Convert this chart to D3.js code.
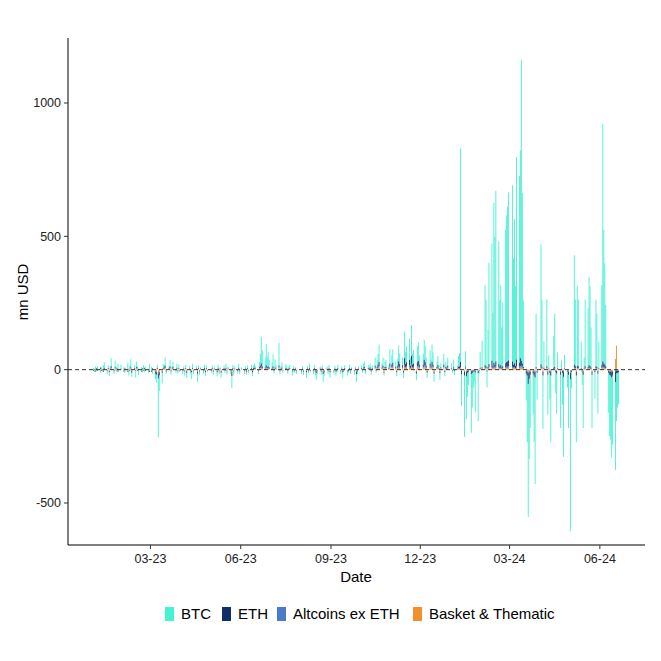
<!DOCTYPE html>
<html><head><meta charset="utf-8">
<script src="https://cdn.jsdelivr.net/npm/d3@7"></script>
<style>body{margin:0;background:#fff}text{font-family:Arial,"Liberation Sans",sans-serif}</style>
</head><body><div id="chart"></div>
<script>
const months = ["2023-01","2023-02","2023-03","2023-04","2023-05","2023-06","2023-07","2023-08","2023-09",
  "2023-10","2023-11","2023-12","2024-01","2024-02","2024-03","2024-04","2024-05","2024-06"];
// business-day values per month, mn USD
const btc = [
  [5,-8,10,-5,12,-10,8,-6,15,20,-12,10,-15,8,30,-10,25,12,-8,20,15],
  [10,-12,25,-20,15,30,-15,10,-25,20,12,-18,8,-10,15,-8,10,-12,20,-15],
  [10,-15,-20,-30,12,-220,-60,-40,15,10,30,-10,8,25,-12,10,20,-8,15,-10,12,-5,8],
  [-10,8,-15,12,-20,10,-8,-25,15,-10,8,-30,10,-12,5,-8,12,-15,10,-5],
  [-8,10,-12,8,-15,12,-10,5,-18,10,-8,15,-12,8,-10,-45,12,-15,10,-8,15,-10,8],
  [5,-10,8,-12,10,-8,12,-15,10,15,8,-10,20,45,100,60,35,80,40,55,30,25],
  [20,45,-10,30,15,85,-12,10,20,-8,15,10,-10,8,12,-15,10,-8,5,-10],
  [-10,8,-12,-20,10,-8,15,-5,-10,12,-15,-25,-10,8,-12,10,-30,-15,8,-10,12,-20,-8],
  [-12,10,-15,-8,12,-10,8,-20,-5,10,-15,-8,12,-10,5,-12,8,-30,-10,8,12],
  [10,-8,15,20,-10,12,8,15,-12,10,30,-8,25,40,65,15,30,-10,20,25,10,55],
  [35,50,20,-15,25,60,40,30,-20,100,45,60,80,30,115,40,50,-25,60,70,35,45],
  [40,75,60,30,-20,50,25,65,45,-30,20,35,10,-25,15,40,-15,20,10,30,5],
  [20,-10,30,-15,10,40,50,800,-120,-230,60,-160,-90,-50,-220,-130,-60,-40,-150,-180,-10,60],
  [100,300,250,-60,140,380,440,200,600,480,640,460,250,300,150,240,500,550,580,630,540],
  [660,400,540,300,760,700,780,1130,640,250,-100,-250,-500,-300,-200,-150,-250,-400,200,-100,-120],
  [450,250,-200,100,250,-150,50,-100,-250,120,200,-80,-150,60,-200,30,-120,-300,50,-60,-200,100],
  [-570,-60,410,250,-250,300,250,100,-50,-200,40,250,220,330,300,150,-200,-100,250,200,-150,100,50],
  [300,890,500,380,230,-150,-230,-240,-300,-260,-330,-180,-130,-120]
];
const eth = [
  [-3,2,-4,3,-2,5,-3,2,-5,4,-2,3,-4,2,6,-3,4,-2,3,-4,2],
  [-4,3,-5,2,-3,4,-6,3,-2,5,-3,2,-4,3,-2,4,-3,2,-5,3],
  [-5,3,-8,-10,4,-20,-12,-6,3,5,8,-4,3,6,-3,2,5,-2,4,-3,3,-2,2],
  [-3,2,-4,3,-6,2,-3,-5,4,-3,2,-8,3,-4,2,-3,4,-5,3,-2],
  [-2,3,-4,2,-5,3,-3,2,-6,3,-2,4,-3,2,-3,-15,3,-4,2,-3,4,-3,2],
  [2,-3,2,-4,3,-2,3,-5,3,4,2,-3,5,8,12,6,4,8,5,6,4,3],
  [3,6,-2,4,2,8,-3,2,4,-2,3,2,-3,2,3,-4,2,-2,2,-3],
  [-3,2,-4,-5,2,-3,4,-2,-3,3,-4,-6,-3,2,-4,3,-8,-5,2,-3,3,-5,-2],
  [-3,2,-4,-2,3,-3,2,-5,-2,3,-4,-2,3,-3,2,-3,2,-8,-3,2,3],
  [3,-2,4,5,-3,3,2,4,-3,3,8,-2,6,10,15,4,8,-3,5,6,3,12],
  [10,15,6,-5,8,18,12,10,-6,25,12,15,20,8,30,10,12,-8,15,18,10,12],
  [10,20,15,8,-6,12,6,15,10,-8,5,8,3,-6,4,10,-4,5,3,8,2],
  [3,-2,5,-3,2,6,8,20,-12,-15,5,-18,-8,-5,-12,-8,-4,-3,-6,-8,-2,4],
  [5,10,8,-4,6,12,25,8,15,10,20,12,6,10,4,8,15,18,20,22,15],
  [20,10,15,8,25,15,30,18,12,5,-10,-15,-40,-25,-12,-10,-15,-20,6,-8,-10],
  [12,6,-15,4,8,-12,2,-8,-15,4,6,-5,-10,3,-12,2,-8,-18,3,-4,-12,4],
  [-25,-5,12,8,-15,10,8,3,-4,-12,3,8,6,10,8,5,-12,-6,8,6,-10,3,2],
  [10,20,15,12,8,-8,-12,-15,-20,-15,-40,-10,-8,-6]
];
const alts = [
  [1,-1,2,-1,1,-2,1,-1,2,1,-1,1,-2,1,3,-1,2,1,-1,2,1],
  [1,-1,2,-2,1,2,-1,1,-2,2,1,-1,1,-1,1,-1,1,-1,2,-1],
  [1,-1,-2,-3,1,-5,-3,-2,1,1,2,-1,1,2,-1,1,2,-1,1,-1,1,-1,1],
  [-1,1,-1,1,-2,1,-1,-2,1,-1,1,-2,1,-1,1,-1,1,-1,1,-1],
  [-1,1,-1,1,-2,1,-1,1,-2,1,-1,1,-1,1,-1,-3,1,-1,1,-1,1,-1,1],
  [1,-1,1,-1,1,-1,1,-2,1,1,1,-1,2,3,5,3,2,4,2,3,2,2],
  [2,3,-1,2,1,4,-1,1,2,-1,1,1,-1,1,1,-1,1,-1,1,-1],
  [-1,1,-1,-2,1,-1,1,-1,-1,1,-1,-2,-1,1,-1,1,-3,-2,1,-1,1,-2,-1],
  [-1,1,-1,-1,1,-1,1,-2,-1,1,-1,-1,1,-1,1,-1,1,-3,-1,1,1],
  [1,-1,2,2,-1,1,1,2,-1,1,3,-1,2,4,6,2,3,-1,2,2,1,5],
  [4,5,2,-2,3,6,4,3,-2,8,4,6,7,3,10,4,5,-3,6,7,4,5],
  [4,8,6,3,-2,5,3,6,4,-3,2,4,1,-3,2,4,-2,2,1,3,1],
  [1,-1,2,-1,1,2,2,4,-2,-3,2,-3,-2,-1,-2,-2,-1,-1,-2,-2,-1,1],
  [2,3,2,-1,2,4,4,2,5,4,5,4,2,3,2,2,4,5,5,6,5],
  [5,4,4,3,6,5,6,7,5,2,-2,-3,-6,-4,-3,-2,-3,-4,2,-2,-2],
  [4,2,-3,1,2,-3,1,-2,-3,1,2,-1,-2,1,-3,1,-2,-4,1,-1,-3,1],
  [-5,-1,3,2,-3,2,2,1,-1,-3,1,2,2,3,2,1,-3,-1,2,2,-2,1,1],
  [3,5,4,3,2,-2,-3,-3,-4,-3,-6,-3,-2,-2]
];
const basket = [
  [-2,1,-3,2,-1,3,-2,1,-3,2,-1,2,-3,1,4,-2,3,-1,2,-3,1],
  [-3,2,-3,1,-2,3,-4,2,-1,3,-2,1,-3,2,-1,3,-2,1,-3,2],
  [-3,2,-5,-6,2,-8,-6,-4,2,3,5,-2,2,4,-2,1,3,-1,2,-2,2,-1,1],
  [-2,1,-2,2,-4,1,-2,-3,2,-2,1,-5,2,-2,1,-2,2,-3,2,-1],
  [-1,2,-2,1,-3,2,-2,1,-4,2,-1,2,-2,1,-2,-6,2,-2,1,-2,2,-2,1],
  [1,-2,1,-2,2,-1,2,-3,2,2,1,-2,3,4,6,3,2,4,3,3,2,2],
  [2,3,-1,2,1,4,-2,1,2,-1,2,1,-2,1,2,-2,1,-1,1,-2],
  [-2,1,-2,-3,1,-2,2,-1,-2,2,-2,-4,-2,1,-2,2,-5,-3,1,-2,2,-3,-1],
  [-2,1,-2,-1,2,-2,1,-3,-1,2,-2,-1,2,-2,1,-2,1,-5,-2,1,2],
  [2,-1,2,3,-2,2,1,2,-2,2,4,-1,3,5,8,2,4,-8,3,3,2,6],
  [5,6,3,-3,4,7,5,4,-3,10,5,7,9,4,12,5,6,-4,7,8,5,6],
  [5,9,7,4,-3,6,4,8,5,-4,3,5,2,-4,3,5,-3,3,2,4,1],
  [1,-1,2,-1,1,3,2,5,-3,-4,2,-4,-2,-2,-3,-2,-2,-1,-2,-3,-1,2],
  [2,4,3,-2,2,5,5,3,6,4,6,5,3,4,2,3,5,6,6,7,6],
  [6,4,5,3,7,6,7,8,6,3,-3,-4,-7,-5,-4,-3,-4,-5,2,-2,-3],
  [4,3,-4,2,3,-4,1,-2,-4,2,2,-2,-3,1,-4,1,-2,-5,1,-2,-4,2],
  [-6,-2,4,3,-4,3,3,1,-2,-4,1,3,2,4,3,2,-4,-2,3,2,-3,1,1],
  [4,6,5,4,3,-2,-4,-4,-5,-4,40,90,-2,-2]
];
const keys = ["BTC","ETH","Altcoins ex ETH","Basket & Thematic"];
const colors = ["#44f2d4","#0f2f66","#4a7ac8","#f28e2b"];
const yTicks = [-500,0,500,1000];
const xTicks = ["2023-03-01","2023-06-01","2023-09-01","2023-12-01","2024-03-01","2024-06-01"];

// build rows: assign values to weekdays of each month
const rows = [];
months.forEach((m, mi) => {
  const [yy, mm] = m.split("-").map(Number);
  const d = new Date(yy, mm - 1, 2);
  let i = 0;
  while (d.getMonth() === mm - 1 && i < btc[mi].length) {
    if (d.getDay() > 0 && d.getDay() < 6) {
      rows.push({date: new Date(d), "BTC": btc[mi][i], "ETH": eth[mi][i] || 0,
        "Altcoins ex ETH": alts[mi][i] || 0, "Basket & Thematic": basket[mi][i] || 0});
      i++;
    }
    d.setDate(d.getDate() + 1);
  }
});

const W = 661, H = 661;
const svg = d3.select("#chart").append("svg").attr("width", W).attr("height", H);
const x = d3.scaleTime().domain([new Date(2022, 11, 7), new Date(2024, 6, 17)]).range([68, 645]);
const y = d3.scaleLinear().domain([-500, 1000]).range([503, 103]);
const plotTop = 38, plotBottom = 545;

// ggplot-like stacking: first level outermost
const series = d3.stack().keys(keys).order(d3.stackOrderReverse).offset(d3.stackOffsetDiverging)(rows);
svg.append("g").selectAll("g").data(series).join("g")
  .attr("fill", d => colors[keys.indexOf(d.key)])
  .selectAll("rect").data(d => d).join("rect")
  .attr("x", d => x(d.data.date) - 0.45)
  .attr("width", 0.9)
  .attr("y", d => y(Math.max(d[0], d[1])))
  .attr("height", d => Math.abs(y(d[0]) - y(d[1])));

svg.append("line").attr("x1", 68).attr("x2", 645).attr("y1", y(0)).attr("y2", y(0))
  .attr("stroke", "#333").attr("stroke-dasharray", "4,3").attr("stroke-width", 1);

// axes
svg.append("line").attr("x1", 68).attr("x2", 68).attr("y1", plotTop).attr("y2", plotBottom).attr("stroke", "#000");
svg.append("line").attr("x1", 68).attr("x2", 645).attr("y1", plotBottom).attr("y2", plotBottom).attr("stroke", "#000");
const yg = svg.append("g").selectAll("g").data(yTicks).join("g").attr("transform", d => `translate(68,${y(d)})`);
yg.append("line").attr("x1", -4).attr("x2", 0).attr("stroke", "#333");
yg.append("text").attr("x", -7).attr("dy", "0.35em").attr("text-anchor", "end")
  .attr("font-size", 12.5).attr("fill", "#222").text(d => d);
const xg = svg.append("g").selectAll("g").data(xTicks).join("g")
  .attr("transform", d => `translate(${x(d3.timeParse("%Y-%m-%d")(d))},${plotBottom})`);
xg.append("line").attr("y2", 4).attr("stroke", "#333");
xg.append("text").attr("y", 18).attr("text-anchor", "middle").attr("font-size", 12.5).attr("fill", "#222")
  .text(d => d.slice(5, 7) + "-" + d.slice(2, 4));

svg.append("text").attr("x", 356).attr("y", 582).attr("text-anchor", "middle").attr("font-size", 15).text("Date");
svg.append("text").attr("transform", "translate(28,292) rotate(-90)").attr("text-anchor", "middle")
  .attr("font-size", 15).text("mn USD");

// legend
const legX = [165, 222, 277, 413];
const lg = svg.append("g").selectAll("g").data(keys).join("g").attr("transform", (d, i) => `translate(${legX[i]},614)`);
lg.append("rect").attr("x", 0).attr("y", -7).attr("width", 9).attr("height", 14).attr("fill", (d, i) => colors[i]);
lg.append("text").attr("x", 16).attr("dy", "0.35em").attr("font-size", 15).text(d => d);
</script></body></html>
